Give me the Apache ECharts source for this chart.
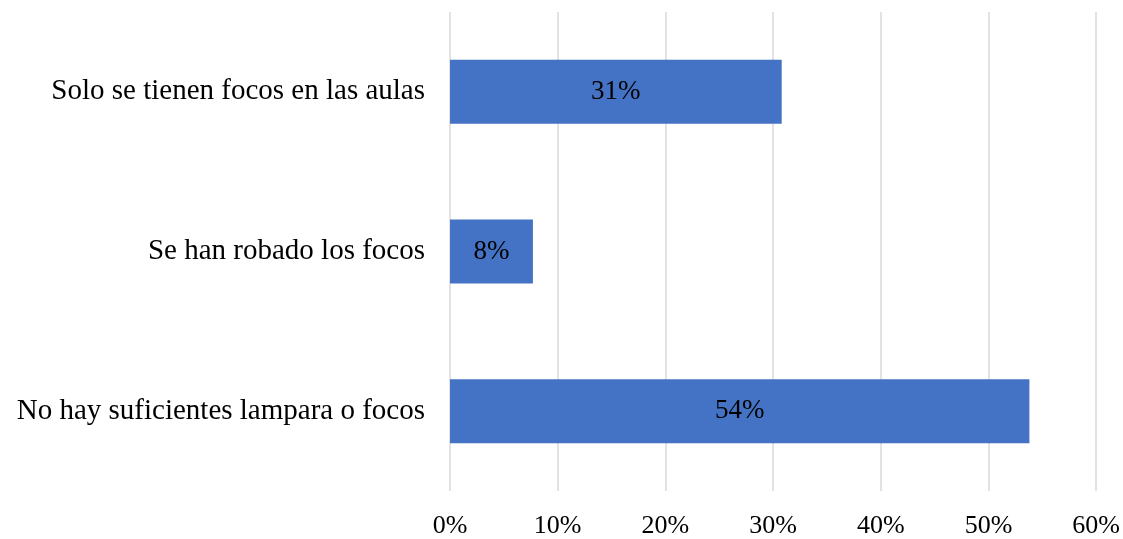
<!DOCTYPE html>
<html>
<head>
<meta charset="utf-8">
<script src="https://cdn.jsdelivr.net/npm/echarts@6/dist/echarts.min.js"></script>
<style>
  html, body { margin: 0; padding: 0; background: #fff; }
  #chart { width: 1123px; height: 539px; }
</style>
</head>
<body>
<div id="chart"></div>
<script>
// categories bottom-to-top (ECharts category y axis starts at the bottom)
const categories = [
  'No hay suficientes lampara o focos',
  'Se han robado los focos',
  'Solo se tienen focos en las aulas'
]
const percentValues = [53.8, 7.7, 30.8]
const tickValues = [0, 10, 20, 30, 40, 50, 60]

const font = '"Liberation Serif", "Times New Roman", serif'

const chart = echarts.init(document.getElementById('chart'))
chart.setOption({
  animation: false,
  grid: {
    left: 450,
    right: 23,
    top: 12,
    bottom: 46,
    containLabel: false
  },
  xAxis: {
    type: 'value',
    min: tickValues[0],
    max: tickValues[tickValues.length - 1],
    interval: 10,
    axisLine: { show: false },
    axisTick: { show: false },
    axisLabel: {
      formatter: v => v + '%',
      fontFamily: font,
      fontSize: 26,
      color: '#000',
      margin: 22
    },
    splitLine: {
      show: true,
      lineStyle: { color: '#d9d9d9', width: 1.5 }
    }
  },
  yAxis: {
    type: 'category',
    data: categories,
    axisLine: { show: false },
    axisTick: { show: false },
    axisLabel: {
      fontFamily: font,
      fontSize: 29,
      color: '#000',
      margin: 25,
      padding: [6, 0, 0, 0]
    }
  },
  series: [{
    type: 'bar',
    data: percentValues,
    barWidth: 64,
    itemStyle: { color: '#4472C4' },
    label: {
      show: true,
      position: 'inside',
      formatter: p => Math.round(p.value) + '%',
      fontFamily: font,
      fontSize: 27,
      color: '#000',
      padding: [6, 0, 0, 0]
    }
  }]
})
</script>
</body>
</html>
